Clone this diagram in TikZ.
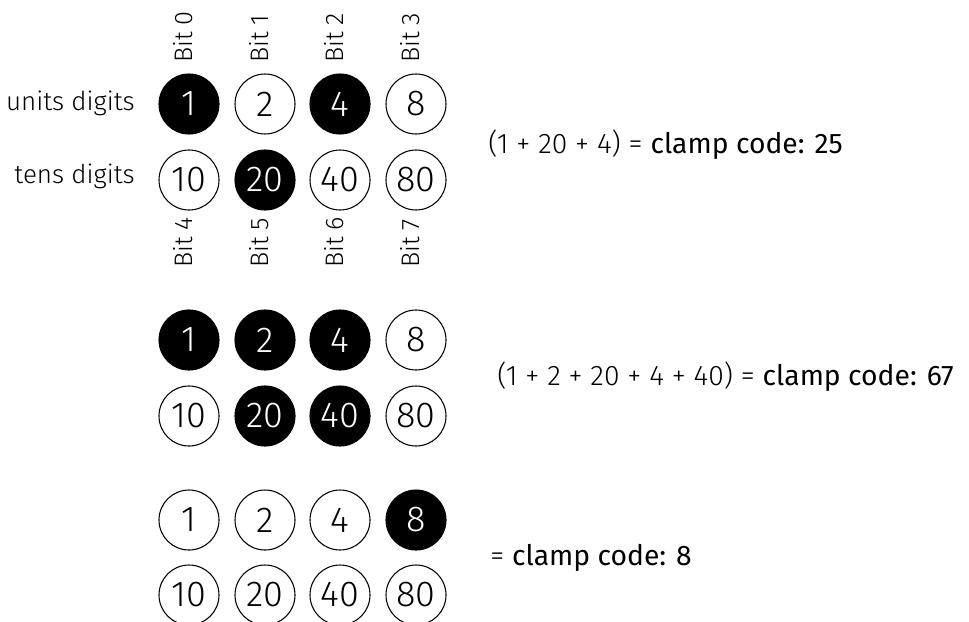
\documentclass[tikz,border=0pt]{standalone}
\usepackage{fontspec}
\IfFontExistsTF{Fira Sans Light}{%
  \setmainfont{Fira Sans Light}[BoldFont={Fira Sans}]%
}{%
  \setmainfont{Liberation Sans}[BoldFont={Liberation Sans}, BoldFeatures={FakeBold=1.5}]%
}
\begin{document}
\begin{tikzpicture}[x=0.75pt,y=-0.75pt,
  bit/.style={circle, draw, line width=0.8pt, minimum size=45pt, inner sep=0pt, font=\fontsize{27}{27}\selectfont},
  on/.style={bit, fill=black, text=white},
  off/.style={bit, fill=white},
  bitlbl/.style={font=\fontsize{19}{19}\selectfont, rotate=90, inner sep=0pt, anchor=mid west},
  rowlbl/.style={font=\fontsize{19.5}{19.5}\selectfont, inner sep=0pt, anchor=base east},
  sumlbl/.style={font=\fontsize{21.2}{21.2}\selectfont, inner sep=0pt, anchor=base west}]
\useasboundingbox (0,0) rectangle (969,621);
% group 1
\node[on]  (a1)  at (189,104) {1};
\node[off] (a2)  at (265,104) {2};
\node[on]  (a4)  at (340,104) {4};
\node[off] (a8)  at (416,104) {8};
\node[off] (a10) at (189,180) {10};
\node[on]  (a20) at (265,180) {20};
\node[off] (a40) at (340,180) {40};
\node[off] (a80) at (416,180) {80};
\node[bitlbl] (b0) at (189,63) {Bit 0};
\node[bitlbl] (b1) at (265,63) {Bit 1};
\node[bitlbl] (b2) at (340,63) {Bit 2};
\node[bitlbl] (b3) at (416,63) {Bit 3};
\node[bitlbl] (b4) at (189,268) {Bit 4};
\node[bitlbl] (b5) at (265,268) {Bit 5};
\node[bitlbl] (b6) at (340,268) {Bit 6};
\node[bitlbl] (b7) at (416,268) {Bit 7};
\node[rowlbl] (units) at (135,110) {units digits};
\node[rowlbl] (tens) at (135,183) {tens digits};
\node[sumlbl] (s1) at (488,153) {(1 + 20 + 4) = \textbf{clamp code: 25}};
% group 2
\node[on]  (c1)  at (189,340) {1};
\node[on]  (c2)  at (265,340) {2};
\node[on]  (c4)  at (340,340) {4};
\node[off] (c8)  at (416,340) {8};
\node[off] (c10) at (189,416) {10};
\node[on]  (c20) at (265,416) {20};
\node[on]  (c40) at (340,416) {40};
\node[off] (c80) at (416,416) {80};
\node[sumlbl] (s2) at (497,385) {(1 + 2 + 20 + 4 + 40) = \textbf{clamp code: 67}};
% group 3
\node[off] (d1)  at (189,520) {1};
\node[off] (d2)  at (265,520) {2};
\node[off] (d4)  at (340,520) {4};
\node[on]  (d8)  at (416,520) {8};
\node[off] (d10) at (189,595) {10};
\node[off] (d20) at (265,595) {20};
\node[off] (d40) at (340,595) {40};
\node[off] (d80) at (416,595) {80};
\node[sumlbl] (s3) at (490,565) {= \textbf{clamp code: 8}};
\end{tikzpicture}
\end{document}
